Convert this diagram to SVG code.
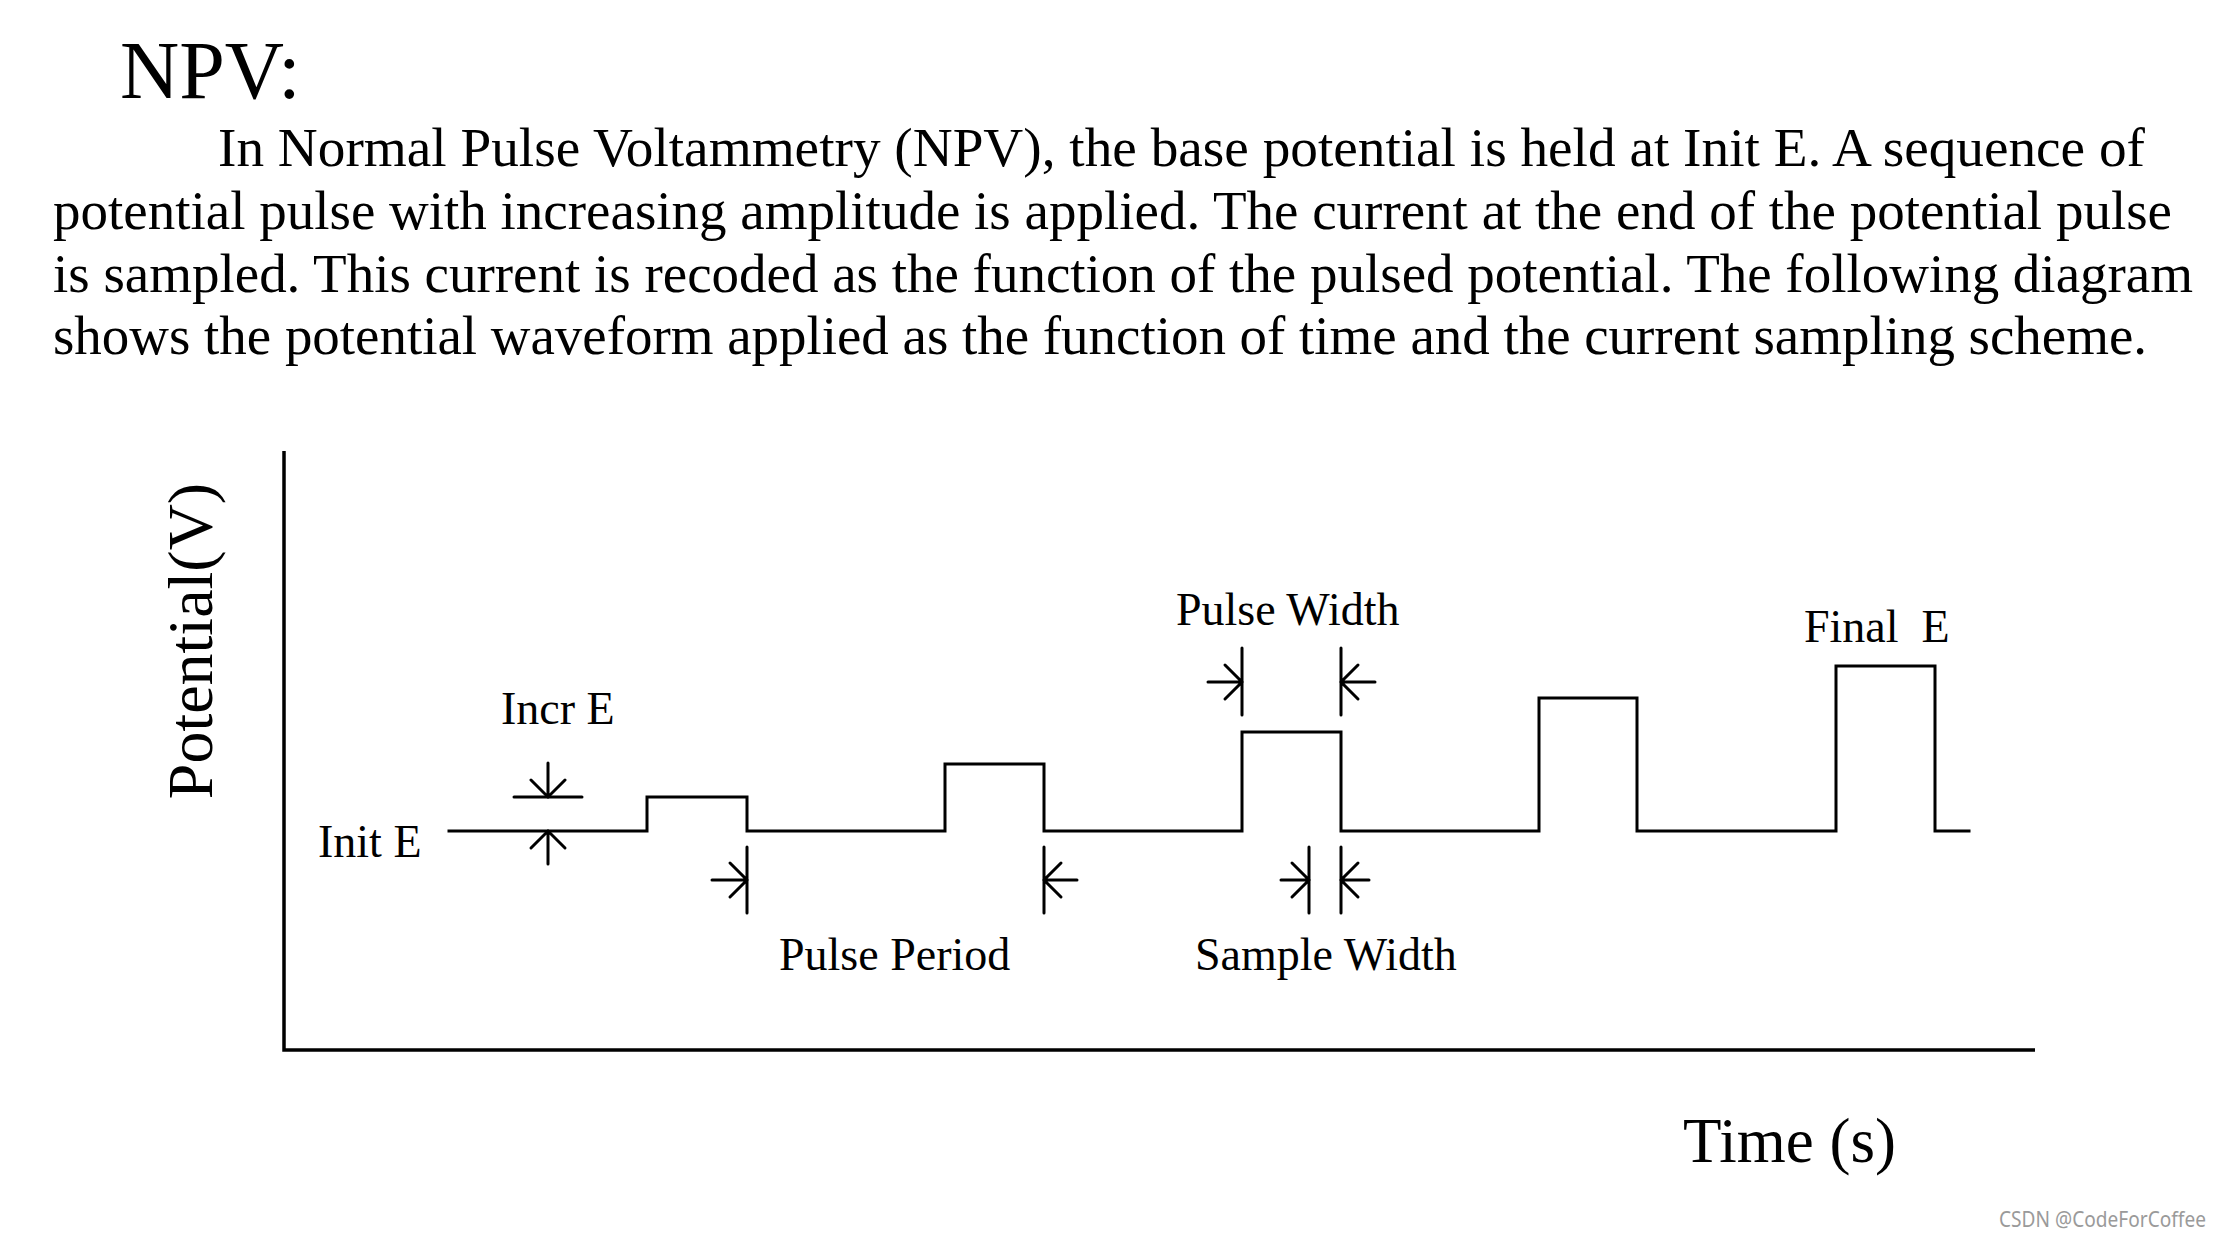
<svg xmlns="http://www.w3.org/2000/svg" width="2222" height="1238" viewBox="0 0 2222 1238">
<style>
.t{font-family:"Liberation Serif","Times New Roman",serif;fill:#000}
.body{font-size:55px}
.lbl{font-size:46px}
.ln{fill:none;stroke:#000;stroke-width:3;stroke-linecap:square;stroke-linejoin:miter}
.ar{fill:none;stroke:#000;stroke-width:3;stroke-linecap:round;stroke-linejoin:miter}
.ax{fill:none;stroke:#000;stroke-width:3.5}
</style>
<rect width="2222" height="1238" fill="#fff"/>
<g id="title">
<text class="t" x="120" y="98" font-size="82">NPV:</text>
</g>
<g id="paragraph" class="t body">
<text x="218" y="166" textLength="1927" lengthAdjust="spacingAndGlyphs">In Normal Pulse Voltammetry (NPV), the base potential is held at Init E. A sequence of</text>
<text x="53" y="229" textLength="2119" lengthAdjust="spacingAndGlyphs">potential pulse with increasing amplitude is applied. The current at the end of the potential pulse</text>
<text x="53" y="292" textLength="2140" lengthAdjust="spacingAndGlyphs">is sampled. This current is recoded as the function of the pulsed potential. The following diagram</text>
<text x="53" y="354" textLength="2094" lengthAdjust="spacingAndGlyphs">shows the potential waveform applied as the function of time and the current sampling scheme.</text>
</g>
<g id="axes">
<path class="ax" d="M284,451 V1050 H2035"/>
<text class="t" font-size="64" transform="translate(212,641) rotate(-90)" text-anchor="middle">Potential(V)</text>
<text class="t" x="1683" y="1162" font-size="63">Time (s)</text>
</g>
<g id="waveform">
<path class="ln" d="M449,831 H647 V797 H747 V831 H945 V764 H1044 V831 H1242 V732 H1341 V831 H1539 V698 H1637 V831 H1836 V666 H1935 V831 H1969"/>
</g>
<g id="connectors">
<g id="incr-e-markers">
<path class="ar" d="M514,797 H582"/>
<path class="ar" d="M548,763 V797 M531,780 L548,797 L565,780"/>
<path class="ar" d="M548,864 V831 M531,848 L548,831 L565,848"/>
</g>
<g id="pulse-period-markers">
<path class="ar" d="M747,847 V913 M712,880 H747 M730,863 L747,880 L730,897"/>
<path class="ar" d="M1044,847 V913 M1077,880 H1044 M1061,863 L1044,880 L1061,897"/>
</g>
<g id="pulse-width-markers">
<path class="ar" d="M1242,648 V715 M1208,682 H1242 M1225,665 L1242,682 L1225,699"/>
<path class="ar" d="M1341,648 V715 M1375,682 H1341 M1358,665 L1341,682 L1358,699"/>
</g>
<g id="sample-width-markers">
<path class="ar" d="M1309,847 V913 M1281,880 H1309 M1292,863 L1309,880 L1292,897"/>
<path class="ar" d="M1341,847 V913 M1369,880 H1341 M1358,863 L1341,880 L1358,897"/>
</g>
</g>
<g id="label-incr-e"><text class="t lbl" x="501" y="724">Incr E</text></g>
<g id="label-init-e"><text class="t lbl" x="318" y="857">Init E</text></g>
<g id="label-pulse-period"><text class="t lbl" x="779" y="970">Pulse Period</text></g>
<g id="label-pulse-width"><text class="t lbl" x="1176" y="625">Pulse Width</text></g>
<g id="label-sample-width"><text class="t lbl" x="1195" y="970">Sample Width</text></g>
<g id="label-final-e"><text class="t lbl" x="1804" y="642" style="white-space:pre">Final  E</text></g>
<g id="watermark">
<text x="1999" y="1227" font-family="'Noto Sans','DejaVu Sans',sans-serif" font-size="21" fill="#9a9a9a" textLength="207" lengthAdjust="spacingAndGlyphs">CSDN @CodeForCoffee</text>
</g>
</svg>
